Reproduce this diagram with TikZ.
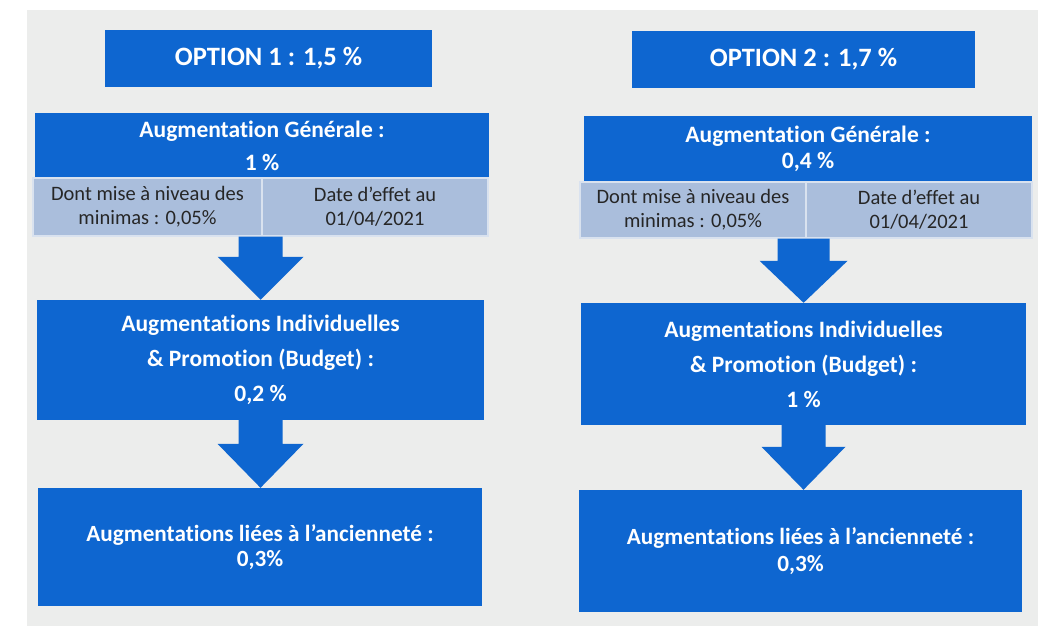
\documentclass[tikz,border=0pt]{standalone}
\usepackage{fontspec}
\setmainfont{Carlito}[Ligatures=NoCommon]
\usetikzlibrary{calc}
\definecolor{bleu}{RGB}{14,102,208}
\definecolor{gris}{RGB}{170,190,220}
\definecolor{fond}{RGB}{236,237,236}
\tikzset{
  boite/.style={fill=bleu, text=white, font=\bfseries, align=center, inner sep=0pt},
  cellule/.style={fill=gris, draw=gris!45!white, line width=1.2pt, text=black!85, align=center, inner sep=0pt}
}
% fleche pleine : depart, pointe, demi-tige, demi-tete, longueur tete
\newcommand{\flecheBloc}[5]{%
  \fill[bleu] ($(#1)+(-#3,0)$) -- ($(#1)+(#3,0)$) -- ($(#2)+(#3,-#5)$) -- ($(#2)+(#4,-#5)$)
    -- (#2) -- ($(#2)+(-#4,-#5)$) -- ($(#2)+(-#3,-#5)$) -- cycle;}
\begin{document}
\begin{tikzpicture}[x=1pt, y=-1pt]
  \fill[white] (0,0) rectangle (1056,626);
  \fill[fond] (27,10) rectangle (1038,626);
  %option 1
  \node[boite, minimum width=327, minimum height=57, font=\bfseries\fontsize{26.5}{30}\selectfont] (opt1) at (268.5,58.5) {OPTION 1\ : 1,5 \%};
  \node[boite, minimum width=454, minimum height=65, font=\bfseries\fontsize{23.5}{33}\selectfont] (genL) at (262,145.5) {Augmentation Générale :\\ 1 \%};
  \node[cellule, minimum width=229, minimum height=58, font=\fontsize{20.5}{24}\selectfont] (dontL) at (147.5,207) {Dont mise à niveau des\\ minimas : 0,05\%};
  \node[cellule, minimum width=226, minimum height=58, font=\fontsize{20.5}{24}\selectfont] (dateL) at (375,207) {Date d’effet au\\ 01/04/2021};
  \node[boite, minimum width=447, minimum height=120, font=\bfseries\fontsize{23.5}{35}\selectfont] (indivL) at (260.5,360) {Augmentations Individuelles\\ \& Promotion (Budget) :\\ 0,2 \%};
  \node[boite, minimum width=444, minimum height=118, font=\bfseries\fontsize{23.2}{25}\selectfont] (ancL) at (260,547) {Augmentations liées à l’ancienneté\ :\\ 0,3\%};
  \coordinate (a1L) at ($(dontL.south east)+(-2,0)$);
  \flecheBloc{a1L}{a1L |- indivL.north}{22}{43}{43}
  \flecheBloc{indivL.south}{indivL.south |- ancL.north}{22}{43}{44}
  %option 2
  \node[boite, minimum width=343, minimum height=57, font=\bfseries\fontsize{26.5}{30}\selectfont] (opt2) at (803.5,59.5) {OPTION 2\ : 1,7 \%};
  \node[boite, minimum width=448, minimum height=66, font=\bfseries\fontsize{23.5}{26}\selectfont] (genR) at (808,149) {Augmentation Générale :\\ 0,4 \%};
  \node[cellule, minimum width=226, minimum height=56, font=\fontsize{20.5}{24}\selectfont] (dontR) at (693,210) {Dont mise à niveau des\\ minimas : 0,05\%};
  \node[cellule, minimum width=226, minimum height=56, font=\fontsize{20.5}{24}\selectfont] (dateR) at (919,210) {Date d’effet au\\ 01/04/2021};
  \node[boite, minimum width=445, minimum height=122, font=\bfseries\fontsize{23.5}{35}\selectfont] (indivR) at (803.5,364) {Augmentations Individuelles\\ \& Promotion (Budget) :\\ 1 \%};
  \node[boite, minimum width=443, minimum height=122, font=\bfseries\fontsize{23.2}{27}\selectfont] (ancR) at (800.5,551) {Augmentations liées à l’ancienneté\ :\\ 0,3\%};
  \coordinate (a1R) at ($(dontR.south east)+(-3,0)$);
  \flecheBloc{a1R}{a1R |- indivR.north}{26}{44}{42}
  \flecheBloc{indivR.south}{indivR.south |- ancR.north}{22}{42}{43}
\end{tikzpicture}
\end{document}
